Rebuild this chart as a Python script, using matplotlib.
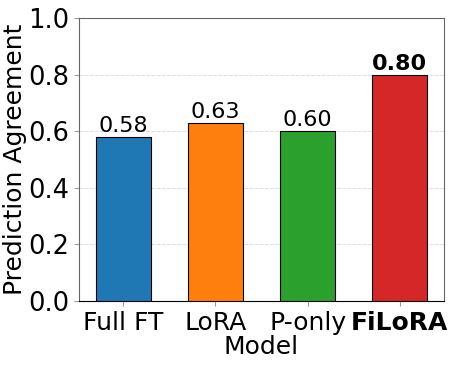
import matplotlib
matplotlib.use("Agg")
from matplotlib import pyplot as plt

models = ["Full FT", "LoRA", "P-only", "FiLoRA"]
agreement = [0.58, 0.63, 0.60, 0.80]
colors = ["#1f77b4", "#ff7f0e", "#2ca02c", "#d62728"]

fig, ax = plt.subplots(figsize=(4.6, 3.68), dpi=100)
bars = ax.bar(range(len(models)), agreement, width=0.6, color=colors,
              edgecolor="black", linewidth=0.8, zorder=3)

# value labels on top, best one in bold
for i, (b, v) in enumerate(zip(bars, agreement)):
    weight = "bold" if i == len(models) - 1 else "normal"
    ax.text(b.get_x() + b.get_width() / 2, v + 0.003, "{:.2f}".format(v),
            ha="center", va="bottom", fontsize=16, fontweight=weight)

ax.set_xticks(range(len(models)))
ax.set_xticklabels(models, fontsize=18)
ax.get_xticklabels()[-1].set_fontweight("bold")
ax.set_ylim(0, 1.0)
ax.set_yticks([0.0, 0.2, 0.4, 0.6, 0.8, 1.0])
ax.tick_params(axis="y", labelsize=18.5)
ax.tick_params(color="#999999")
ax.set_xlabel("Model", fontsize=18, labelpad=0)
ax.set_ylabel("Prediction Agreement", fontsize=18, labelpad=1)
ax.yaxis.grid(True, linestyle="--", color="#dddddd", linewidth=0.7, zorder=0)
for side in ["top", "right", "left"]:
    ax.spines[side].set_color("#666666")

plt.subplots_adjust(left=0.172, right=0.965, top=0.951, bottom=0.182)
plt.savefig("out.png", dpi=100)
